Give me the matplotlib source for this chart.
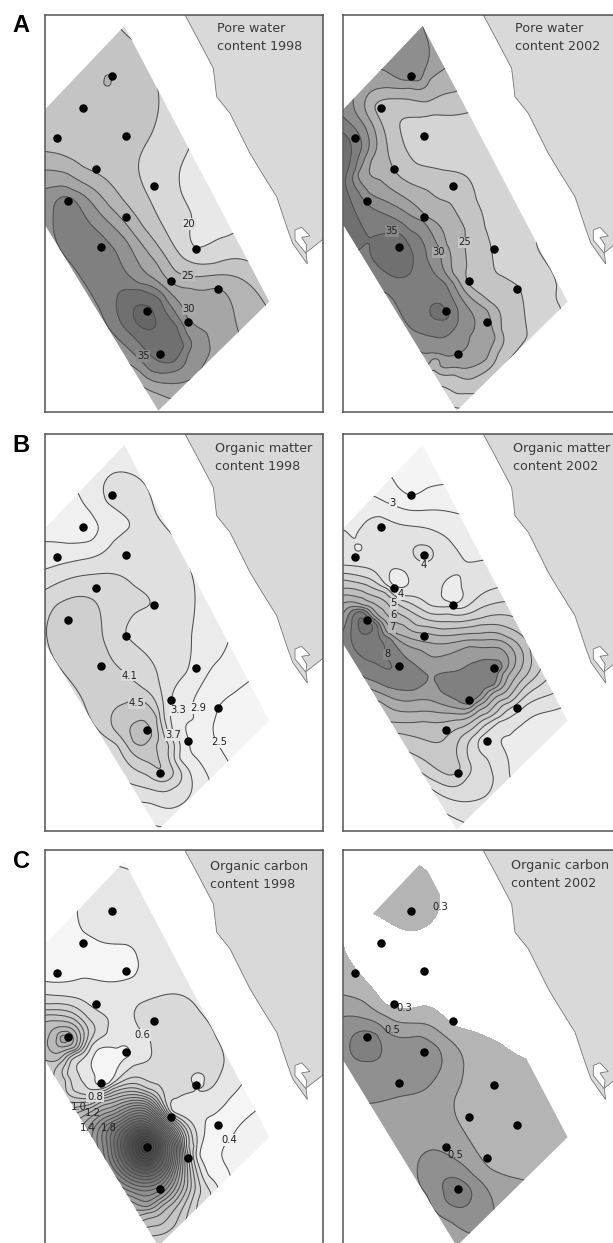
import numpy as np
import matplotlib
matplotlib.use("Agg")
import matplotlib.pyplot as plt
from matplotlib.patches import Polygon

# everything below, in 3x pixels, each panel with its own origin
W, H = 613, 1243
panel_w, panel_h = 278, 397

stations_x = [202, 113, 35, 242, 152, 328, 70, 242, 168, 453, 377, 520, 307, 430, 344]
stations_y = [183, 279, 369, 363, 461, 512, 559, 605, 696, 702, 799, 822, 888, 922, 1016]

site_x = [238, 673, 340, 0, 0]
site_y = [33, 860, 1187, 630, 283]

coast_x = [420, 455, 505, 515, 555, 615, 645, 695, 725, 743, 787, 783, 834, 834]
coast_y = [0, 65, 160, 245, 295, 415, 465, 545, 635, 685, 747, 713, 673, 0]
inlet_x = [750, 770, 795, 770, 785, 783, 750]
inlet_y = [645, 637, 663, 667, 690, 715, 675]

# pore water 1998: isoline samples per contour number
pw98_lines = {
    1: [(567,445),(540,510),(545,580),(575,650),(585,740),(620,735),(660,715),(700,700)],
    2: [(470,250),(475,330),(455,400),(420,470),(420,530),(450,600),(490,680),(530,750),(570,785),(640,790),(750,785),(365,90),(380,105),(397,120)],
    3: [(140,455),(200,470),(250,500),(320,540),(370,600),(430,680),(490,760),(530,815),(580,830),(650,825),(720,835),(790,905),(313,240),(325,225),(333,243),(322,258)],
    4: [(140,510),(200,520),(270,560),(330,620),(400,700),(470,790),(510,845),(570,865),(650,865),(690,900),(715,995),(415,1150),(470,1180),(515,1197)],
    5: [(140,565),(165,560),(220,570),(300,640),(377,720),(480,850),(560,950),(620,1000),(630,1050),(590,1125),(500,1150),(420,1115),(385,1090)],
    6: [(160,640),(190,590),(215,595),(250,640),(300,700),(350,760),(420,850),(500,900),(560,1000),(565,1060),(520,1115),(450,1110),(400,1060),(300,930),(220,800),(160,680)],
    7: [(350,900),(370,870),(420,870),(480,900),(530,980),(550,1040),(520,1085),(470,1080),(400,1010),(355,950)],
    8: [(400,945),(430,915),(462,945),(460,985),(430,985)],
}
pw98_extra = [(620,600,0.5),(680,680,0.5),(250,300,2.5),(150,400,2.6),(350,400,2.5),(340,170,2.4),(430,950,8.4),(650,1000,4.5),(323,242,3.2),(395,90,1.6)]
pw98_grays = ["#e8e8e8","#d8d8d8","#c4c4c4","#b4b4b4","#a6a6a6","#929292","#808080","#707070","#666666"]

pw02_lines = {
    1: [(620,730),(650,790),(680,860),(690,920),(350,1215),(390,1225)],
    2: [(415,338),(310,345),(240,352),(210,370),(225,440),(260,490),(340,510),(410,530),(440,600),(465,680),(490,790),(520,830),(565,860),(585,950),(590,1010),(315,1155),(380,1180),(440,1180)],
    3: [(375,275),(290,305),(165,298),(135,320),(165,400),(180,480),(210,530),(290,570),(360,610),(405,690),(410,800),(415,850),(480,905),(515,990),(505,1060),(440,1130),(370,1125),(315,1090)],
    4: [(345,205),(300,240),(240,265),(150,265),(108,295),(110,340),(140,420),(125,480),(150,540),(220,590),(290,650),(350,730),(370,820),(410,880),(470,930),(495,1010),(470,1075),(400,1105),(330,1095),(300,1088)],
    5: [(70,310),(105,380),(115,450),(85,520),(120,580),(200,620),(280,665),(330,750),(370,850),(420,930),(420,1010),(385,1060),(320,1060),(255,1045),(160,210),(220,240),(270,240),(295,180),(280,80)],
    6: [(40,350),(75,385),(95,440),(75,510),(85,575),(105,605),(160,640),(240,690),(290,770),(345,850),(385,950),(370,990),(310,1010),(250,990),(170,880)],
    7: [(120,740),(165,700),(215,705),(250,770),(235,825),(190,830),(130,780),(300,935),(320,910),(345,925),(355,950),(330,960)],
}
pw02_extra = [(230,150,5.5),(180,770,7.4),(325,935,7.3),(300,880,6.7),(600,600,1.6),(500,480,1.6),(430,420,1.6),(320,420,1.7),
              (580,720,1.4),(650,950,1.4),(620,1050,1.4),(530,1120,1.5),(470,1165,1.6),(700,900,0.6),(380,1240,0.5),(420,1200,1.4)]
pw02_grays = ["#dedede","#d4d4d4","#c4c4c4","#b2b2b2","#a0a0a0","#8e8e8e","#7e7e7e","#707070"]

om98_lines = {
    1: [(748,768),(700,805),(655,848),(640,900),(655,960),(685,1010)],
    2: [(687,645),(660,700),(610,770),(580,830),(580,880),(565,945),(590,1000),(627,1062),(237,210),(270,260),(295,310),(275,345),(210,355),(143,350),(450,1198),(490,1207)],
    3: [(143,430),(240,405),(340,350),(385,310),(370,270),(320,230),(310,190),(340,145),(400,150),(450,210),(500,310),(570,430),(585,530),(575,630),(560,740),(520,800),(510,850),(520,920),(540,1000),(575,1060),(570,1110),(505,1150),(450,1135),(415,1130)],
    4: [(143,490),(230,455),(320,445),(400,480),(450,535),(400,570),(378,625),(430,680),(470,740),(490,840),(520,950),(545,1050),(520,1090),(460,1095),(390,1075)],
    5: [(143,590),(170,540),(230,515),(280,525),(305,600),(320,670),(370,740),(430,790),(480,880),(505,960),(520,1040),(490,1070),(440,1050),(350,960),(250,830),(143,650)],
    6: [(335,870),(375,835),(430,830),(470,880),(470,960),(480,1030),(440,1010),(380,960),(340,910)],
    7: [(390,920),(410,890),(440,895),(455,930),(430,960),(400,950)],
}
om98_extra = [(220,300,1.7),(375,70,2.5),(720,880,0.7),(425,925,7.3),(500,1185,2.5),(660,740,1.6)]
om98_grays = ["#f4f4f4","#f0f0f0","#ebebeb","#e0e0e0","#d8d8d8","#cfcfcf","#c6c6c6","#bdbdbd"]

om02_lines = {
    1: [(187,160),(220,200),(240,210),(290,190),(345,178)],
    2: [(135,215),(165,230),(215,250),(300,255),(380,265)],
    3: [(40,315),(75,340),(95,305),(150,275),(220,300),(320,320),(370,360),(410,410),(465,405),(178,455),(205,432),(235,460),(225,485),(190,480),(335,500),(355,460),(390,455),(395,490),(370,535),(345,525),(695,848),(600,880),(540,930),(530,990),(540,1055),(75,368),(85,358),(95,368),(85,378)],
    4: [(40,420),(90,425),(140,445),(170,480),(215,510),(300,540),(365,545),(440,520),(503,488),(250,385),(280,360),(310,385),(290,410),(265,405),(670,805),(590,840),(510,890),(450,940),(470,1000),(490,1060),(470,1110),(400,1130),(300,1090)],
    5: [(40,445),(100,455),(170,490),(230,530),(300,565),(370,570),(450,550),(525,530),(652,762),(590,810),(510,875),(440,925),(415,1000),(410,1060),(370,1085),(300,1060),(270,1040)],
    6: [(40,465),(110,480),(190,525),(270,575),(360,590),(450,580),(550,575),(635,725),(590,780),(520,840),(460,885),(400,930),(390,1030),(365,1050),(310,1025),(245,985)],
    7: [(40,490),(110,505),(180,545),(260,600),(340,612),(450,600),(540,610),(603,690),(590,750),(530,820),(470,865),(400,905),(340,945),(270,940),(205,925)],
    8: [(40,510),(100,520),(160,555),(220,600),(290,625),(340,632),(450,625),(530,635),(580,690),(565,745),(510,810),(450,855),(380,885),(280,890),(180,890)],
    9: [(40,535),(100,540),(150,575),(200,625),(280,650),(420,645),(520,650),(557,700),(540,745),(495,800),(440,845),(360,865),(260,860),(150,830)],
    10: [(40,565),(80,545),(130,570),(170,620),(270,675),(420,665),(510,670),(535,700),(520,745),(475,800),(425,845),(360,845),(260,825),(115,790)],
    11: [(50,585),(70,555),(110,560),(150,600),(180,640),(230,700),(290,770),(250,795),(170,785),(110,760),(315,770),(370,740),(440,710),(490,705),(515,730),(490,780),(450,810),(420,835),(380,825),(330,795)],
    12: [(65,600),(90,560),(140,600),(165,680),(185,722),(130,712),(65,650)],
    13: [(85,600),(105,585),(125,600),(115,625),(95,625)],
}
om02_extra = [(240,175,0.5),(205,460,2.5),(365,495,2.5),(85,368,2.7),(280,385,4.4),(150,350,3.4),(300,470,3.5),(420,770,11.4),(303,775,10.5),(300,720,10.4),(300,805,10.4),
              (105,607,13.4),(600,980,2.6),(560,1130,3.3),(370,1190,2.8)]
om02_grays = ["#f4f4f4","#f0f0f0","#ececec","#e2e2e2","#dcdcdc","#d2d2d2","#c8c8c8","#bebebe","#b4b4b4","#aaaaaa","#9c9c9c","#808080","#7a7a7a","#707070"]

oc98_lines = {
    0.4: [(770,825),(730,860),(690,915),(665,960),(690,1020)],
    0.5: [(728,745),(690,790),(640,840),(615,880),(600,960),(625,1020),(655,1060),(232,232),(250,290),(300,320),(380,330),(412,370),(400,425),(350,440),(250,430),(138,440),
          (285,725),(350,640),(380,635),(390,660),(350,705),(325,745),(295,750),(362,96),(390,105)],
    0.6: [(145,480),(205,485),(275,515),(325,560),(320,595),(275,633),(240,680),(235,715),(255,750),(305,762),(345,740),(400,693),(455,655),(450,615),(425,590),(405,555),(415,510),(475,485),(540,480),(600,530),(650,610),(672,680),(650,740),(580,770),(530,790),(518,828),
          (578,745),(580,720),(600,715),(612,740),(600,760),(590,935),(632,1075)],
    0.7: [(145,507),(205,510),(265,550),(285,585),(265,630),(215,675),(203,720),(220,765),(265,780),(335,755),(425,730),(475,750),(497,800),(582,935),(595,1095)],
    0.8: [(145,525),(235,545),(265,595),(230,655),(195,690),(195,735),(285,785),(442,760),(567,935),(565,1130)],
    0.9: [(145,540),(225,555),(252,595),(225,650),(180,685),(442,1205),(525,1170)],
    1.0: [(140,560),(195,560),(240,595),(225,645),(175,675),(140,677),(240,815),(300,793),(442,780),(554,935),(518,858),(562,1055),(480,1170)],
    1.2: [(170,610),(190,590),(220,615),(195,635),(442,1135),(490,1110),(400,1145)],
    1.4: [(265,880),(442,810),(537,935),(530,1023),(442,1115),(336,829),(490,1085),(395,1100)],
    1.8: [(327,880),(322,935),(442,840),(520,935),(509,1002),(442,1055),(364,857),(357,1020)],
    2.1: [(442,863),(502,935),(442,1025),(352,935),(380,875),(495,990),(378,998)],
    2.4: [(442,885),(484,935),(442,995),(382,935),(400,895),(470,970),(400,977)],
    2.7: [(442,910),(464,935),(442,965),(412,935)],
}
oc98_extra = [(442,935,3.0),(187,610,1.35),(330,695,0.44),(250,370,0.44),(740,900,0.36),(350,200,0.55),(340,590,0.55),(400,620,0.56),(250,470,0.55),
              (480,620,0.65),(600,650,0.65),(540,540,0.65),(590,740,0.55),(600,900,0.55),(640,960,0.45),(660,1020,0.45),(700,950,0.37),(725,985,0.36)]

oc02_lines = {
    0.3: [(267,92),(320,145),(330,190),(300,265),(240,288),(190,270),(135,238),(40,330),(65,385),(100,430),(135,470),(170,510),(245,520),(285,513),(330,535),(370,570),(430,590),(500,620),(560,660),(595,675)],
    0.4: [(40,480),(100,500),(170,545),(260,565),(340,600),(395,660),(400,710),(375,790),(385,860),(440,950),(480,1000),(580,1035)],
    0.5: [(40,545),(100,550),(170,590),(270,605),(325,640),(335,690),(290,760),(210,785),(125,805),(270,970),(310,945),(370,970),(430,1020),(490,1110),(262,1010),(290,1080),(360,1160),(420,1195)],
    0.6: [(60,630),(90,590),(140,600),(155,645),(110,680),(70,665),(340,1070),(380,1030),(420,1060),(420,1100),(390,1118),(350,1100)],
}
oc02_extra = [(200,400,0.22),(500,500,0.2),(100,330,0.24),(240,180,0.36),(600,900,0.35),(500,800,0.35),(130,850,0.45),(250,870,0.45),(355,1215,0.44),(240,680,0.55),(300,1050,0.55),(108,635,0.65),(380,1065,0.65)]
oc02_grays = ["#ffffff","#b4b4b4","#a2a2a2","#909090","#808080"]

# gray of the 1998 carbon bands at a few contour values
oc98_ramp_v = [0.3, 0.4, 0.5, 0.6, 0.8, 1.2, 1.4, 1.8, 2.4, 3.0]
oc98_ramp_g = [0.95, 0.96, 0.90, 0.85, 0.80, 0.70, 0.62, 0.50, 0.30, 0.18]

titles = [["Pore water","content 1998"],["Pore water","content 2002"],
          ["Organic matter","content 1998"],["Organic matter","content 2002"],
          ["Organic carbon","content 1998"],["Organic carbon","content 2002"]]
title_x = [652, 555, 645, 548, 630, 543]
title_y = [85, 85, 70, 70, 95, 92]

pw98_labels = [("20",567,672,"#e0e0e0"),("25",564,827,"#bcbcbc"),("30",567,928,"#a8a8a8"),("35",430,1068,"#8a8a8a")]
pw02_labels = [("25",405,727,"#c8c8c8"),("30",327,757,"#a8a8a8"),("35",185,693,"#888888")]
om98_labels = [("4.1",388,752,"#dadada"),("4.5",410,835,"#d4d4d4"),("3.3",533,856,"#ebebeb"),("2.9",596,849,"#f0f0f0"),("3.7",520,930,"#e4e4e4"),("2.5",658,952,"#f4f4f4")]
om02_labels = [("3",188,235,"#ececec"),("4",282,420,"#e2e2e2"),("4",213,508,"#e2e2e2"),("5",191,535,"#d8d8d8"),("6",189,570,"#c8c8c8"),("7",186,606,"#b8b8b8"),("8",172,688,"#888888")]
oc98_labels = [("0.6",427,600,"#e6e6e6"),("0.8",285,785,"#dcdcdc"),("1.0",236,815,None),("1.2",280,835,None),("1.4",262,880,None),("1.8",327,880,None),("0.4",688,915,"#f2f2f2")]
oc02_labels = [("0.3",330,218,None),("0.3",222,520,None),("0.5",186,585,None),("0.5",376,960,None)]


def tps_field(lines, extra, gx, gy):
    # thin plate spline through the isoline samples
    pts = [(x, y, z) for z, pp in lines.items() for x, y in pp] + list(extra)
    pts = np.array(pts, dtype=float)
    px, py, pz = pts[:, 0] / 1000, pts[:, 1] / 1000, pts[:, 2]

    def kern(d):
        return np.where(d > 0, d**2 * np.log(np.maximum(d, 1e-9)), 0.0)

    n = len(pz)
    K = kern(np.hypot(px[:, None] - px, py[:, None] - py)) + 1e-5 * np.eye(n)
    P = np.column_stack([np.ones(n), px, py])
    A = np.block([[K, P], [P.T, np.zeros((3, 3))]])
    sol = np.linalg.solve(A, np.r_[pz, 0, 0, 0])
    qx, qy = gx.ravel() / 1000, gy.ravel() / 1000
    G = kern(np.hypot(qx[:, None] - px, qy[:, None] - py))
    out = G @ sol[:n] + sol[n] + sol[n + 1] * qx + sol[n + 2] * qy
    return out.reshape(gx.shape)


def draw_panel(px_left, px_top, ox, oy, lines, extra, levels, grays, line_levels, labels, title, tx, ty):
    ax = fig.add_axes([px_left / W, 1 - (px_top + panel_h) / H, panel_w / W, panel_h / H])
    ax.set_xlim(0, panel_w * 3)
    ax.set_ylim(panel_h * 3, 0)
    ax.set_xticks([])
    ax.set_yticks([])
    for s in ax.spines.values():
        s.set_color("#555555")
        s.set_linewidth(1.1)

    ax.fill(coast_x, coast_y, facecolor="#d9d9d9", edgecolor="#777777", lw=0.6, zorder=1)
    ax.fill(inlet_x, inlet_y, facecolor="white", edgecolor="#777777", lw=0.6, zorder=1)

    # the samples are in crop pixels, move them to this panel's origin
    shifted = {z: [(x - ox, y - oy) for x, y in pp] for z, pp in lines.items()}
    ext = [(x - ox, y - oy, z) for x, y, z in extra]
    gx, gy = np.meshgrid(np.arange(0, panel_w * 3 + 1, 3.0), np.arange(0, panel_h * 3 + 1, 3.0))
    zz = tps_field(shifted, ext, gx, gy)

    site = Polygon(np.column_stack([site_x, site_y]), closed=True, transform=ax.transData, fc="none", ec="none")
    ax.add_patch(site)
    bounds = [zz.min() - 1] + list(levels) + [zz.max() + 1]
    cf = ax.contourf(gx, gy, zz, levels=bounds, colors=grays, zorder=2)
    cf.set_clip_path(site)
    cl = ax.contour(gx, gy, zz, levels=line_levels, colors="#505050", linewidths=0.75, zorder=3)
    cl.set_clip_path(site)

    ax.plot(stations_x, stations_y, "o", color="black", ms=6.1, mew=0, zorder=5)

    for txt, x, y, bg in labels:
        box = dict(facecolor=bg, edgecolor="none", pad=0.6) if bg else None
        t = ax.text(x - ox, y - oy, txt, fontsize=7.2, color="#222222", ha="center", va="center", bbox=box, zorder=4)
        t.set_clip_path(site)
    ax.text(tx - ox, ty - oy, title[0], fontsize=9.2, color="#3a3a3a", va="center", zorder=6)
    ax.text(tx - ox, ty - oy + 53, title[1], fontsize=9.2, color="#3a3a3a", va="center", zorder=6)


fig = plt.figure(figsize=(W / 100, H / 100), dpi=100)

lv = list(range(1, 9))
draw_panel(45, 15, 135, 45, pw98_lines, pw98_extra, lv, pw98_grays, lv, pw98_labels, titles[0], title_x[0], title_y[0])
lv = list(range(1, 8))
draw_panel(343.3, 15, 40, 45, pw02_lines, pw02_extra, lv, pw02_grays, lv, pw02_labels, titles[1], title_x[1], title_y[1])
lv = list(range(1, 8))
draw_panel(45, 434, 135, 27, om98_lines, om98_extra, lv, om98_grays, lv, om98_labels, titles[2], title_x[2], title_y[2])
lv = list(range(1, 14))
draw_panel(343.3, 434, 40, 27, om02_lines, om02_extra, lv, om02_grays, lv, om02_labels, titles[3], title_x[3], title_y[3])

lv = [round(0.4 + 0.1 * i, 1) for i in range(26)]
gr = [str(g) for g in np.interp([0.3] + lv, oc98_ramp_v, oc98_ramp_g)]
draw_panel(45, 850.5, 135, 47, oc98_lines, oc98_extra, lv, gr, lv, oc98_labels, titles[4], title_x[4], title_y[4])
lv = [0.3, 0.4, 0.5, 0.6]
draw_panel(343.3, 850.5, 40, 47, oc02_lines, oc02_extra, lv, oc02_grays, lv[1:], oc02_labels, titles[5], title_x[5], title_y[5])

for letter, y in zip("ABC", [26, 446, 862]):
    fig.text(21 / W, 1 - y / H, letter, fontsize=17, fontweight="bold", family="Liberation Sans", ha="center", va="center")

fig.savefig("out.png", dpi=100)
